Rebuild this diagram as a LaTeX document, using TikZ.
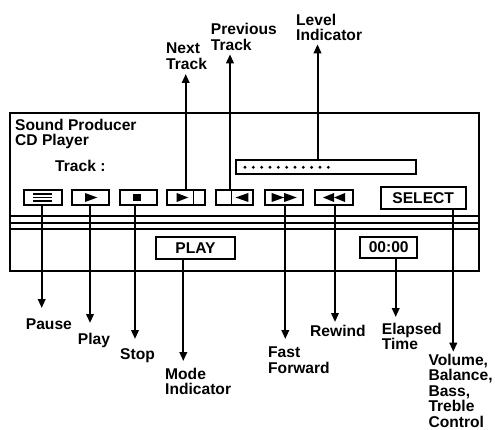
\documentclass[tikz,border=0pt]{standalone}
\usepackage{fontspec}
\setmainfont{Liberation Sans}
\usetikzlibrary{arrows.meta}
\begin{document}
\begin{tikzpicture}[x=1pt,y=-1pt,
  txt/.style={font=\fontsize{15.6}{15.4}\selectfont\bfseries, inner sep=0pt},
  lbl/.style={txt, anchor=north west, align=left},
  btn/.style={draw, line width=1.8pt, rectangle, inner sep=0pt, minimum height=15pt},
  tbox/.style={draw, line width=1.8pt, rectangle, inner sep=0pt, txt},
  frame/.style={line width=2pt},
  arr/.style={line width=2pt, -{Triangle[length=9pt,width=7.5pt]}},
  glyph/.style={fill=black, draw=none}
]
\useasboundingbox (0,0) rectangle (495,430);

% panel
\node[draw, frame, rectangle, inner sep=0pt, minimum width=469pt, minimum height=158pt, anchor=north west] (panel) at (9,112) {};
\draw[frame] (panel.west |- 0,216) -- (panel.east |- 0,216);
\draw[frame] (panel.west |- 0,222.7) -- (panel.east |- 0,222.7);
\draw[frame] (panel.west |- 0,229.3) -- (panel.east |- 0,229.3);

% texts in panel
\node[txt, anchor=base west] (t1) at (15,131) {Sound Producer};
\node[txt, anchor=base west] (t2) at (15,146) {CD Player};
\node[txt, anchor=base west] (t3) at (55,171.5) {Track :};

% level indicator
\node[btn, minimum width=180pt, minimum height=14pt] (level) at (326,167) {};
\foreach \i in {0,...,10} \fill (245+8.33*\i,167.3) circle (1.6pt);

% buttons
\node[btn, minimum width=38pt] (pause) at (43.3,197.5) {};
\node[btn, minimum width=37.3pt] (play) at (90.7,197.5) {};
\node[btn, minimum width=37.3pt] (stop) at (138.7,197.5) {};
\node[btn, minimum width=37.7pt] (next) at (186.2,197.5) {};
\node[btn, minimum width=37.3pt] (prev) at (234.7,197.5) {};
\node[btn, minimum width=37.7pt] (ff) at (283.8,197.5) {};
\node[btn, minimum width=38.3pt] (rew) at (334.2,197.5) {};
\node[tbox, minimum width=85pt, minimum height=22.6pt] (select) at (423.2,198) {SELECT};
\node[tbox, minimum width=79.6pt, minimum height=22pt] (mode) at (195.5,248.3) {PLAY};
\node[tbox, minimum width=57.3pt, minimum height=21.6pt] (time) at (388.7,247.5) {00:00};

% glyphs
\foreach \yy in {194.2,197.5,200.8} \draw[line width=1.7pt] (33.3,\yy) -- (52.3,\yy);
\fill (85,193) -- (97.3,197.5) -- (85,202) -- cycle;
\fill (133,193.8) rectangle (140.5,201.2);
\fill (176.7,193) -- (188.3,197.5) -- (176.7,202) -- cycle;
\draw[line width=1.5pt] (193.3,190) -- (193.3,205);
\draw[line width=1.5pt] (231.7,190) -- (231.7,205);
\fill (248.3,193) -- (235.5,197.5) -- (248.3,202) -- cycle;
\fill (271.7,193) -- (284.2,197.5) -- (271.7,202) -- cycle;
\fill (284.2,193) -- (296.7,197.5) -- (284.2,202) -- cycle;
\fill (334,193) -- (323,197.5) -- (334,202) -- cycle;
\fill (345,193) -- (334,197.5) -- (345,202) -- cycle;

% arrow end points
\coordinate (pauseE) at (41.7,308);
\coordinate (playE) at (90,323);
\coordinate (stopE) at (135,339);
\coordinate (modeE) at (183.3,361);
\coordinate (ffE) at (285.3,339);
\coordinate (rewE) at (335,322);
\coordinate (timeE) at (395.7,317);
\coordinate (selE) at (453.3,351.7);
\coordinate (nextE) at (185.7,74);
\coordinate (prevE) at (230,54.3);
\coordinate (levelE) at (317.5,44.3);

\draw[arr] (pause.south -| pauseE) -- (pauseE);
\draw[arr] (play.south -| playE) -- (playE);
\draw[arr] (stop.south -| stopE) -- (stopE);
\draw[arr] (mode.south -| modeE) -- (modeE);
\draw[arr] (ff.south -| ffE) -- (ffE);
\draw[arr] (rew.south -| rewE) -- (rewE);
\draw[arr] (time.south -| timeE) -- (timeE);
\draw[arr] (select.south -| selE) -- (selE);
\draw[arr] (next.north -| nextE) -- (nextE);
\draw[arr] (prev.north -| prevE) -- (prevE);
\draw[arr] (level.north -| levelE) -- (levelE);

% labels
\node[lbl] (lpause) at (25.7,319) {Pause};
\node[lbl] (lplay) at (77.7,333) {Play};
\node[lbl] (lstop) at (120,348) {Stop};
\node[lbl] (lmode) at (165,368) {Mode\\Indicator};
\node[lbl] (lff) at (268,347) {Fast\\Forward};
\node[lbl] (lrew) at (310,325) {Rewind};
\node[lbl] (ltime) at (381.7,322.7) {Elapsed\\Time};
\node[lbl] (lsel) at (428.3,354) {Volume,\\Balance,\\Bass,\\Treble\\Control};
\node[lbl] (lnext) at (166,42.7) {Next\\Track};
\node[lbl] (lprev) at (210.7,23.3) {Previous\\Track};
\node[lbl] (llevel) at (296,14) {Level\\Indicator};
\end{tikzpicture}
\end{document}
